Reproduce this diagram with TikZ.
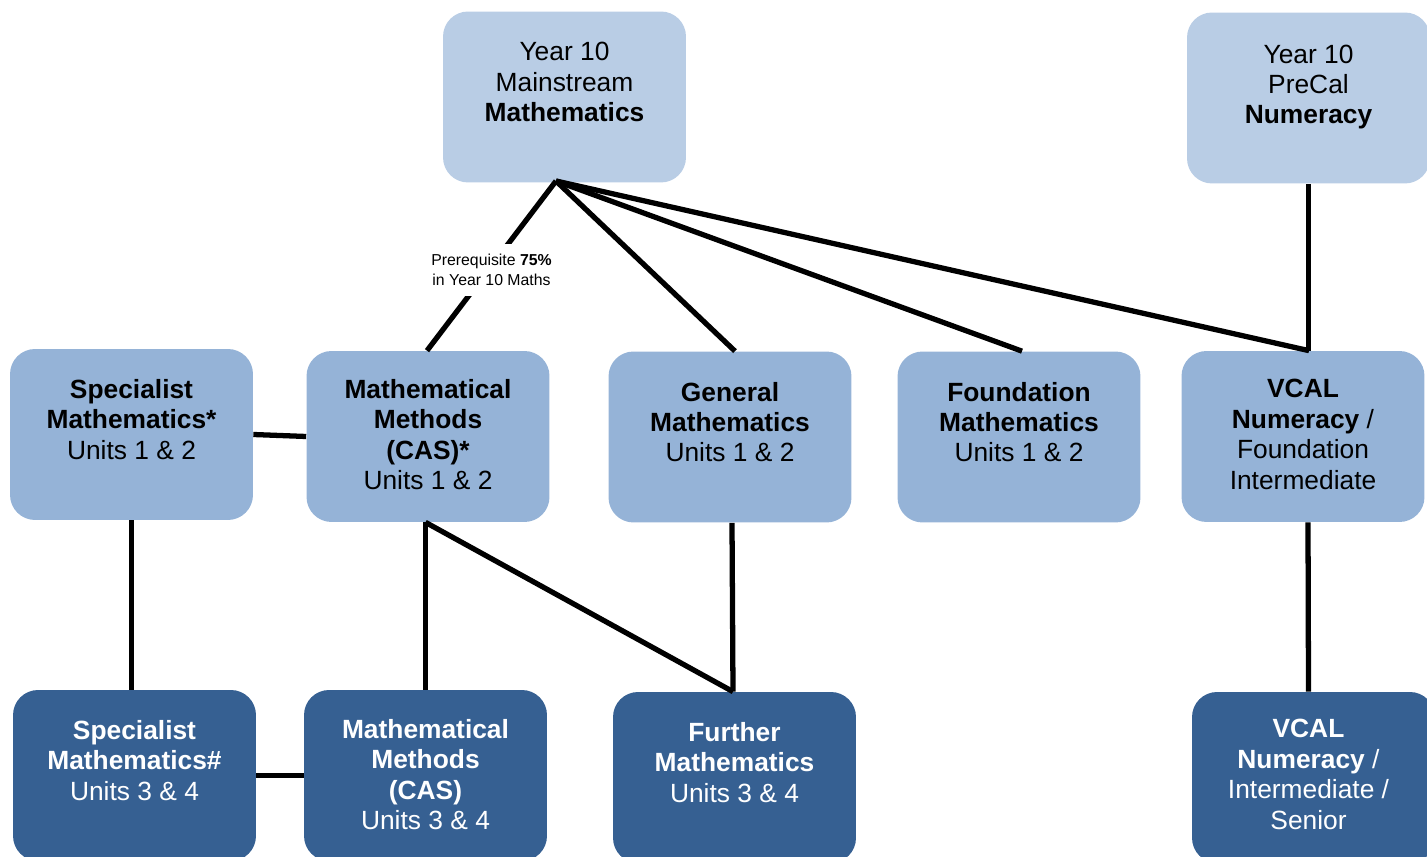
\documentclass[tikz,border=0pt]{standalone}
\usepackage{fontspec}
\setmainfont{Liberation Sans}
\usetikzlibrary{calc}
\definecolor{boxtop}{HTML}{B9CDE5}
\definecolor{boxmid}{HTML}{95B3D7}
\definecolor{boxlow}{HTML}{366092}

\begin{document}
\begin{tikzpicture}[x=0.02cm,y=-0.02cm,
  box/.style={rectangle, rounded corners=0.5cm, minimum width=4.86cm, minimum height=3.42cm, inner sep=0pt},
  txt/.style={align=center, font=\fontsize{15}{17.3}\selectfont, inner sep=0pt},
  link/.style={line width=3pt}]
\useasboundingbox (0,0) rectangle (1427,857);
\clip (0,0) rectangle (1427,857);

% year 10
\node [box, fill=boxtop] (y10m) at (564.5,97) {};
\node [txt] at ($(y10m)+(0,-15)$) {Year 10\\Mainstream\\\textbf{Mathematics}};
\node [box, fill=boxtop] (pre) at (1308.5,98) {};
\node [txt] at ($(pre)+(0,-11)$) {Year 10\\PreCal\\\textbf{Numeracy}};
\coordinate (apex) at (556,181);

% units 1 and 2
\node [box, fill=boxmid] (s12) at (131.5,434.5) {};
\node [txt] at ($(s12)+(0,-15)$) {\textbf{Specialist}\\\textbf{Mathematics*}\\Units 1 \& 2};
\node [box, fill=boxmid] (m12) at (428,436.5) {};
\node [txt] at ($(m12)+(0,-2)$) {\textbf{Mathematical}\\\textbf{Methods}\\\textbf{(CAS)*}\\Units 1 \& 2};
\node [box, fill=boxmid] (gen) at (730,437) {};
\node [txt] at ($(gen)+(0,-15)$) {\textbf{General}\\\textbf{Mathematics}\\Units 1 \& 2};
\node [box, fill=boxmid] (fnd) at (1019,437) {};
\node [txt] at ($(fnd)+(0,-15)$) {\textbf{Foundation}\\\textbf{Mathematics}\\Units 1 \& 2};
\node [box, fill=boxmid] (vcf) at (1303,436.5) {};
\node [txt] at ($(vcf)+(0,-2)$) {\textbf{VCAL}\\\textbf{Numeracy} /\\Foundation\\Intermediate};

% units 3 and 4
\node [box, fill=boxlow] (s34) at (134.5,775.5) {};
\node [txt, white] at ($(s34)+(0,-15)$) {\textbf{Specialist}\\\textbf{Mathematics\#}\\Units 3 \& 4};
\node [box, fill=boxlow] (m34) at (425.5,775.5) {};
\node [txt, white] at ($(m34)+(0,-1)$) {\textbf{Mathematical}\\\textbf{Methods}\\\textbf{(CAS)}\\Units 3 \& 4};
\node [box, fill=boxlow] (fur) at (734.5,777.5) {};
\node [txt, white] at ($(fur)+(0,-15)$) {\textbf{Further}\\\textbf{Mathematics}\\Units 3 \& 4};
\node [box, fill=boxlow] (vci) at (1313.5,777.5) {};
\node [txt, white] at ($(vci)+(-5,-3)$) {\textbf{VCAL}\\\textbf{Numeracy} /\\Intermediate /\\Senior};

% links
\draw [link] (apex) -- node [fill=white, yshift=-0.08cm, align=center, inner xsep=1pt, inner ysep=0.2cm,
  font=\fontsize{9}{11.4}\selectfont] {Prerequisite \textbf{75\%}\\in Year 10 Maths} ([xshift=-0.02cm]m12.north);
\draw [link] (apex) -- ([xshift=0.1cm]gen.north);
\draw [link] (apex) -- ([xshift=0.06cm]fnd.north);
\draw [link] (apex) -- ([xshift=0.12cm]vcf.north);
\draw [link] (pre.south) -- (pre.south |- vcf.north);
\draw [link] (s12.east) -- (m12.west);
\draw [link] (s12.south) -- (s12.south |- s34.north);
\draw [link] (m34.north |- m12.south) -- (m34.north);
\draw [link] (m34.north |- m12.south) -- ([xshift=-0.03cm]fur.north);
\draw [link] ([xshift=0.04cm]gen.south) -- ([xshift=-0.03cm]fur.north);
\draw [link] ([xshift=0.1cm]vcf.south) -- ([xshift=-0.1cm]vci.north);
\draw [link] (s34.east) -- (m34.west);
\end{tikzpicture}
\end{document}
